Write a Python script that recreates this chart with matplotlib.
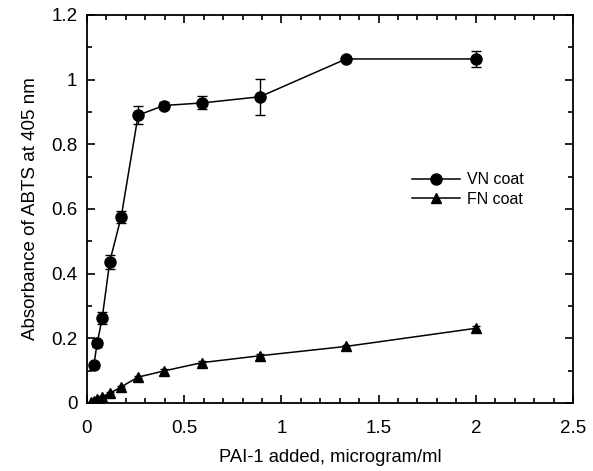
import matplotlib
matplotlib.use("Agg")
import matplotlib.pyplot as plt
from matplotlib.ticker import MultipleLocator

plt.rcParams['font.family'] = ['Liberation Sans', 'DejaVu Sans']

# PAI-1 concentrations (1.5-fold dilution series)
pai_vn = [0.035, 0.052, 0.078, 0.117, 0.176, 0.263, 0.395, 0.593, 0.889, 1.333, 2.0]
vn_abs = [0.116, 0.184, 0.262, 0.437, 0.576, 0.890, 0.920, 0.928, 0.947, 1.064, 1.064]
vn_err = [0.008, 0.010, 0.018, 0.022, 0.019, 0.028, 0.012, 0.020, 0.055, 0.005, 0.025]

pai_fn = [0.023, 0.035, 0.052, 0.078, 0.117, 0.176, 0.263, 0.395, 0.593, 0.889, 1.333, 2.0]
fn_abs = [0.002, 0.005, 0.011, 0.020, 0.030, 0.050, 0.080, 0.099, 0.125, 0.146, 0.175, 0.231]
fn_err = [0.002, 0.002, 0.002, 0.003, 0.003, 0.004, 0.004, 0.005, 0.005, 0.005, 0.005, 0.006]

fig = plt.figure(figsize=(5.93, 4.71), dpi=100, facecolor='white')
ax = fig.add_axes([0.1467, 0.1444, 0.8196, 0.8238])

ax.errorbar(pai_vn, vn_abs, yerr=vn_err, color='black', marker='o', markersize=8,
            lw=1.1, capsize=3.5, elinewidth=1, capthick=1, label='VN coat')
ax.errorbar(pai_fn, fn_abs, yerr=fn_err, color='black', marker='^', markersize=7.5,
            lw=1.1, capsize=3, elinewidth=1, capthick=1, label='FN coat')

ax.set_xlim(0, 2.5)
ax.set_ylim(0, 1.2)
ax.xaxis.set_minor_locator(MultipleLocator(0.1))
ax.yaxis.set_minor_locator(MultipleLocator(0.1))
ax.set_xticks([0, 0.5, 1, 1.5, 2, 2.5])
ax.set_xticklabels(['0', '0.5', '1', '1.5', '2', '2.5'])
ax.set_yticks([0, 0.2, 0.4, 0.6, 0.8, 1, 1.2])
ax.set_yticklabels(['0', '0.2', '0.4', '0.6', '0.8', '1', '1.2'])
ax.tick_params(which='both', direction='in', top=True, right=True, labelsize=13.5, width=1.2)
ax.tick_params(which='major', length=6)
ax.tick_params(which='minor', length=3.5)
ax.tick_params(axis='x', which='major', pad=12)
ax.tick_params(axis='y', which='major', pad=7)
for s in ax.spines.values():
    s.set_linewidth(1.3)

ax.set_xlabel('PAI-1 added, microgram/ml', fontsize=13.2, labelpad=9)
ax.set_ylabel('Absorbance of ABTS at 405 nm', fontsize=13.5, labelpad=9)

handles, labels = ax.get_legend_handles_labels()
ax.legend([h[0] for h in handles], labels, loc='center left',
          bbox_to_anchor=(0.64, 0.55), frameon=False, fontsize=11.5,
          handlelength=3, handletextpad=0.4, labelspacing=0.3)

fig.savefig('out.png', dpi=100)
